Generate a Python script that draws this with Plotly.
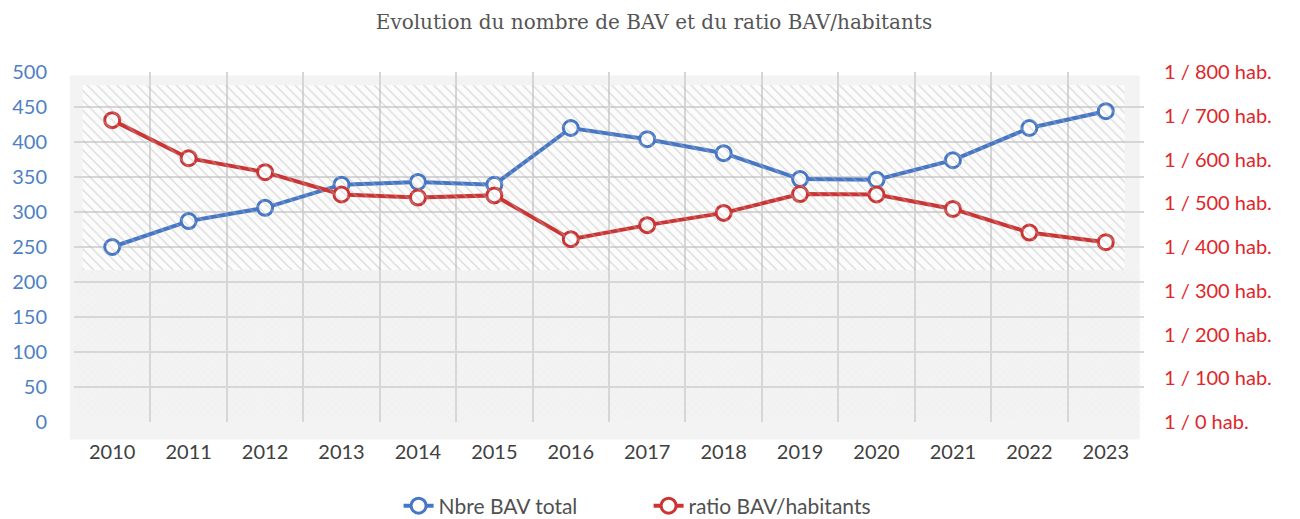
import plotly.graph_objects as go

years = ["2010", "2011", "2012", "2013", "2014", "2015", "2016",
         "2017", "2018", "2019", "2020", "2021", "2022", "2023"]
nbre_bav = [250, 287, 306, 339, 343, 339, 420, 404, 384, 347, 346, 374, 420, 444]
ratio_hab = [690, 603, 571, 520, 513, 518, 418, 450, 478, 521, 520, 487, 433, 411]

left_ticks = list(range(0, 501, 50))
right_ticks = list(range(0, 801, 100))
right_labels = [f"1 / {v} hab." for v in right_ticks]

BLUE = "#4677c6"
RED = "#cc3434"
GRID = "#d6d6d6"

fig = go.Figure()

# hatched background band (upper part of the plot area), on hidden overlay x axis
fig.add_trace(go.Scatter(
    x=[0.008, 0.982, 0.982, 0.008, 0.008],
    y=[217, 217, 481, 481, 217],
    xaxis="x3", yaxis="y",
    mode="lines", line=dict(width=0), fill="toself",
    fillcolor="rgba(0,0,0,0)",
    fillpattern=dict(shape="\\", fgcolor="#b8b8b8", bgcolor="rgba(0,0,0,0)",
                     size=7, solidity=0.18),
    hoverinfo="skip", showlegend=False))

fig.add_trace(go.Scatter(
    x=[0.0, 1.0, 1.0, 0.0, 0.0],
    y=[0, 0, 217, 217, 0],
    xaxis="x3", yaxis="y",
    mode="lines", line=dict(width=0), fill="toself",
    fillcolor="rgba(0,0,0,0)",
    fillpattern=dict(shape="x", fgcolor="#e2e2e2", bgcolor="rgba(0,0,0,0)",
                     size=5, solidity=0.12),
    hoverinfo="skip", showlegend=False))

fig.add_trace(go.Scatter(
    x=years, y=nbre_bav, name="Nbre BAV total",
    mode="lines+markers",
    line=dict(color=BLUE, width=4),
    marker=dict(symbol="circle", size=15, color="white",
                line=dict(color=BLUE, width=3)),
))
fig.add_trace(go.Scatter(
    x=years, y=ratio_hab, name="ratio BAV/habitants", yaxis="y2",
    mode="lines+markers",
    line=dict(color=RED, width=4),
    marker=dict(symbol="circle", size=15, color="white",
                line=dict(color=RED, width=3)),
))

shapes = [
    dict(type="rect", xref="paper", yref="paper", x0=-0.004, x1=0.996,
         y0=-0.05, y1=0.99, fillcolor="#f3f3f3", line=dict(width=0), layer="below"),
    dict(type="rect", xref="paper", yref="y", x0=0.008, x1=0.982,
         y0=217, y1=481, fillcolor="#fcfcfc", line=dict(width=0), layer="below"),
]

fig.update_layout(
    width=1292, height=511,
    margin=dict(l=66, r=156, t=64, b=97, autoexpand=False),
    paper_bgcolor="white", plot_bgcolor="rgba(0,0,0,0)",
    title=dict(text="Evolution du nombre de BAV et du ratio BAV/habitants",
               x=0.5, xanchor="center", y=0.973, yanchor="middle",
               font=dict(family="DejaVu Serif", size=20, color="#555555")),
    shapes=shapes,
    xaxis=dict(type="category", categoryorder="array", categoryarray=years,
               range=[-0.5, 13.5], tickson="boundaries",
               showgrid=True, gridcolor=GRID, gridwidth=2,
               showline=False, zeroline=False, ticks="",
               ticklabelstandoff=16,
               tickfont=dict(family="Lato", size=20, color="#404040")),
    xaxis3=dict(overlaying="x", range=[0, 1], visible=False, showgrid=False),
    yaxis=dict(range=[0, 500], tickvals=left_ticks,
               showgrid=True, gridcolor=GRID, gridwidth=2, zeroline=False,
               showline=False, ticks="", ticklabelstandoff=26,
               tickfont=dict(family="Lato", size=20, color="#4f7fc4")),
    yaxis2=dict(range=[0, 800], tickvals=right_ticks, ticktext=right_labels,
                overlaying="y", side="right", showgrid=False, zeroline=False,
                showline=False, ticks="", ticklabelstandoff=19,
                tickfont=dict(family="Lato", size=20, color="#e0262a")),
    legend=dict(orientation="h", x=0.537, xanchor="center", y=-0.24, yanchor="middle",
                font=dict(family="Lato", size=21, color="#505050"),
                itemwidth=30, entrywidth=205, entrywidthmode="pixels",
                traceorder="normal"),
)

fig.write_html("out.html")
